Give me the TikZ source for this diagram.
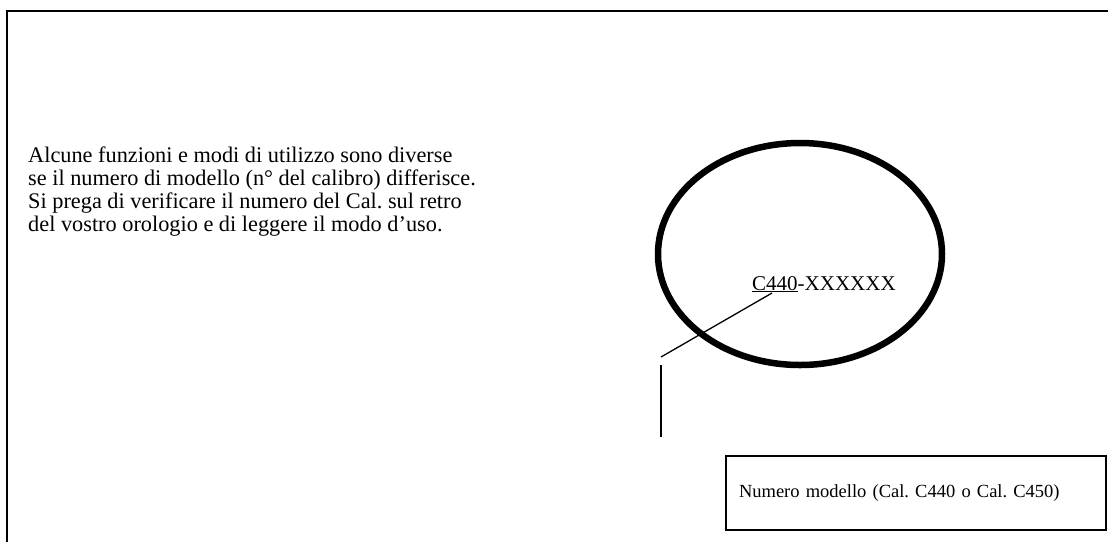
\documentclass[tikz,border=0pt]{standalone}
\usepackage{fontspec}
\setmainfont{Liberation Serif}
\usetikzlibrary{shapes.geometric}
\begin{document}
\frenchspacing
\begin{tikzpicture}[x=1pt,y=-1pt,
  frame/.style={line width=2pt},
  txt/.style={font=\fontsize{20}{23}\selectfont, inner sep=0pt},
  thinline/.style={line width=1.3pt}]
\useasboundingbox (0,0) rectangle (1108,542);
\draw[frame] (7,542) -- (7,11) -- (1108,11);
\node[txt, font=\fontsize{22.3}{23}\selectfont, anchor=north west, align=left] (intro) at (28,147)
  {Alcune funzioni e modi di utilizzo sono diverse\\
   se il numero di modello (n° del calibro) differisce.\\
   Si prega di verificare il numero del Cal. sul retro\\
   del vostro orologio e di leggere il modo d’uso.};
\node[draw, line width=6.5pt, ellipse, minimum width=284pt, minimum height=222pt, inner sep=0pt] (watch) at (800,254) {};
\node[txt, font=\fontsize{21}{23}\selectfont, anchor=base west] (serial) at (752,290) {\underline{C440}-XXXXXX};
\coordinate (ul) at (772,293);
\coordinate (bend) at (661,357);
\coordinate (vtop) at (661,365);
\coordinate (vend) at (661,437);
\draw[thinline] (ul) -- (bend);
\draw[thinline] (vtop) -- (vend);
\node[draw, frame, anchor=north west, minimum width=380pt, minimum height=74pt,
  text width=354pt, inner xsep=13pt, align=left, txt, font=\fontsize{18.5}{22}\selectfont] (model) at (725,455)
  {Numero modello (Cal. C440 o Cal. C450)};
\end{tikzpicture}
\end{document}
